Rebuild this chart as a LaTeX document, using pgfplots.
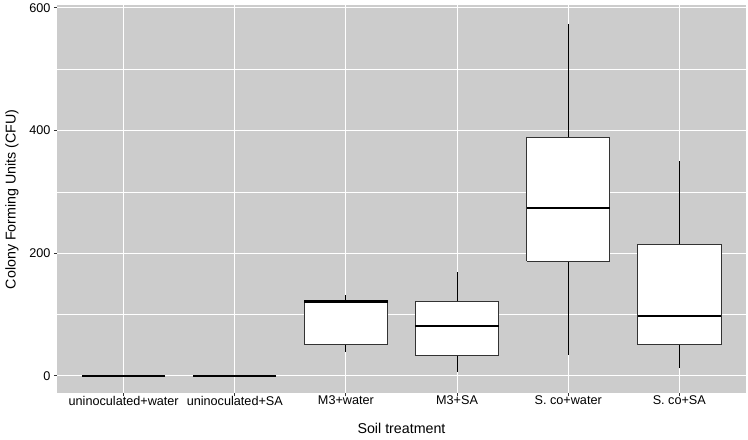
\documentclass[border=0pt]{standalone}
\usepackage{pgfplots}
\pgfplotsset{compat=1.18}
\usepackage{fontspec}
\setmainfont{Liberation Sans}
\definecolor{panelgrey}{gray}{0.8}
\definecolor{tickgrey}{HTML}{333333}

\pgfplotsset{
  whisk/.style={black, line width=0.9bp, mark=none},
  boxs/.style={draw=tickgrey, fill=white, line width=0.9bp, mark=none},
  med/.style={black, line width=2.2bp, mark=none},
}

\begin{document}
\begin{tikzpicture}
\begin{axis}[
  name=ax,
  scale only axis, width=689bp, height=388bp,
  xmin=0.4, xmax=6.6, ymin=-28.6, ymax=604,
  xtick={1,2,3,4,5,6},
  xticklabels={uninoculated+water,uninoculated+SA,M3+water,M3+SA,S. co+water,S. co+SA},
  ytick={0,200,400,600}, minor ytick={100,300,500},
  grid=both,
  major grid style={white, line width=1.1bp},
  minor grid style={white, line width=0.55bp},
  axis background/.style={fill=panelgrey},
  axis line style={draw=none},
  tick align=outside, tick pos=left,
  major tick length=3bp,
  every minor tick/.style={draw=none},
  every tick/.style={tickgrey, line width=0.9bp},
  ticklabel style={font=\fontsize{12.7}{15}\selectfont, text=black},
  xticklabel style={yshift=4bp},
  /pgf/number format/assume math mode=true,
  xlabel={Soil treatment}, ylabel={Colony Forming Units (CFU)},
  label style={font=\fontsize{14.3}{17}\selectfont},
  xlabel style={at={(axis description cs:0.5,-0.091)}, anchor=center},
  ylabel style={at={(axis description cs:-0.0653,0.5)}, anchor=center},
]
% whiskers
\addplot[whisk] coordinates {(3,39) (3,51)};
\addplot[whisk] coordinates {(3,123) (3,131)};
\addplot[whisk] coordinates {(4,6) (4,34)};
\addplot[whisk] coordinates {(4,121) (4,169)};
\addplot[whisk] coordinates {(5,34) (5,187)};
\addplot[whisk] coordinates {(5,388) (5,573)};
\addplot[whisk] coordinates {(6,12) (6,51)};
\addplot[whisk] coordinates {(6,214) (6,350)};
% boxes (lower to upper quartile)
\addplot[boxs] coordinates {(2.625,51) (3.375,51) (3.375,123) (2.625,123) (2.625,51)};
\addplot[boxs] coordinates {(3.625,34) (4.375,34) (4.375,121) (3.625,121) (3.625,34)};
\addplot[boxs] coordinates {(4.625,187) (5.375,187) (5.375,388) (4.625,388) (4.625,187)};
\addplot[boxs] coordinates {(5.625,51) (6.375,51) (6.375,214) (5.625,214) (5.625,51)};
% medians (uninoculated groups: all counts zero)
\addplot[med] coordinates {(0.625,0) (1.375,0)};
\addplot[med] coordinates {(1.625,0) (2.375,0)};
\addplot[med] coordinates {(2.625,121) (3.375,121)};
\addplot[med] coordinates {(3.625,81) (4.375,81)};
\addplot[med] coordinates {(4.625,274) (5.375,274)};
\addplot[med] coordinates {(5.625,98) (6.375,98)};
\end{axis}
\path ([shift={(-57bp,-46bp)}]ax.south west) rectangle ([shift={(2bp,2bp)}]ax.north east);
\end{tikzpicture}
\end{document}
